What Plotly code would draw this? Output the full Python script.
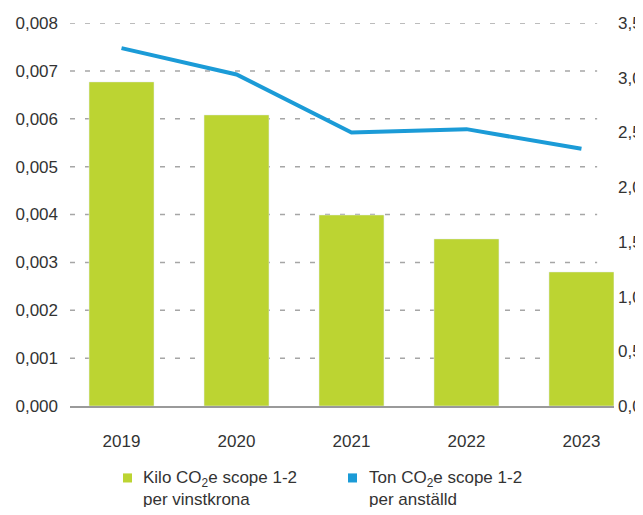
import plotly.graph_objects as go

years = ["2019", "2020", "2021", "2022", "2023"]
kilo_per_vinstkrona = [0.00677, 0.00608, 0.00399, 0.00349, 0.00280]
ton_per_anstalld = [3.27, 3.03, 2.50, 2.53, 2.35]

left_ticks = [0, 0.001, 0.002, 0.003, 0.004, 0.005, 0.006, 0.007, 0.008]
right_ticks = [0, 0.5, 1.0, 1.5, 2.0, 2.5, 3.0, 3.5]

legend_labels = [
    "Kilo CO<sub>2</sub>e scope 1-2<br>per vinstkrona",
    "Ton CO<sub>2</sub>e scope 1-2<br>per anställd",
]

GREEN = "#bcd432"
BLUE = "#1b9bd7"
TEXT = "#333333"
FONT = "Liberation Sans, Arial, sans-serif"

fig = go.Figure()

fig.add_trace(go.Bar(
    x=years, y=kilo_per_vinstkrona,
    marker_color=GREEN, width=0.565,
    name=legend_labels[0], yaxis="y",
))
fig.add_trace(go.Scatter(
    x=years, y=ton_per_anstalld,
    mode="lines", line=dict(color=BLUE, width=4),
    name=legend_labels[1], yaxis="y2",
))

# dashed grid lines that stop a little short of the right edge
shapes = []
for v in left_ticks[1:]:
    shapes.append(dict(
        type="line", xref="paper", yref="y",
        x0=0, x1=0.969, y0=v, y1=v,
        line=dict(color="#a6a6a6", width=1.5, dash="5px,10px"),
        layer="below",
    ))

# legend drawn below the chart: small colour squares + two-line labels
annotations = []
for label, color, sx, tx in zip(legend_labels, [GREEN, BLUE],
                                [0.0974, 0.511], [0.1305, 0.546]):
    shapes.append(dict(
        type="rect", xref="paper", yref="paper",
        x0=sx, x1=sx + 0.0166, y0=-0.176, y1=-0.1997,
        fillcolor=color, line=dict(width=0),
    ))
    annotations.append(dict(
        text=label, xref="paper", yref="paper",
        x=tx, y=-0.2167, xanchor="left", yanchor="middle",
        align="left", showarrow=False,
        font=dict(size=17, color=TEXT),
    ))

# page body has an 8px margin; keep the page short enough to avoid a scrollbar
fig.update_layout(
    width=635, height=499,
    margin=dict(l=62, r=29, t=15, b=101),
    paper_bgcolor="white", plot_bgcolor="white",
    separators=", ",
    font=dict(family=FONT, size=17, color=TEXT),
    showlegend=False,
    shapes=shapes,
    annotations=annotations,
    xaxis=dict(
        type="category", range=[-0.448, 4.283], automargin=False,
        showgrid=False, showline=True, linecolor="#9a9a9a", linewidth=2,
        ticks="", ticklabelstandoff=19,
    ),
    yaxis=dict(
        range=[0, 0.008], tickvals=left_ticks, tickformat=".3f",
        automargin=False,
        showgrid=False, zeroline=False, ticks="", ticklabelstandoff=11,
    ),
    yaxis2=dict(
        range=[0, 3.5], tickvals=right_ticks, tickformat=".1f",
        overlaying="y", side="right", automargin=False,
        showgrid=False, zeroline=False, ticks="", ticklabelstandoff=3,
    ),
)

fig.write_html("out.html")
